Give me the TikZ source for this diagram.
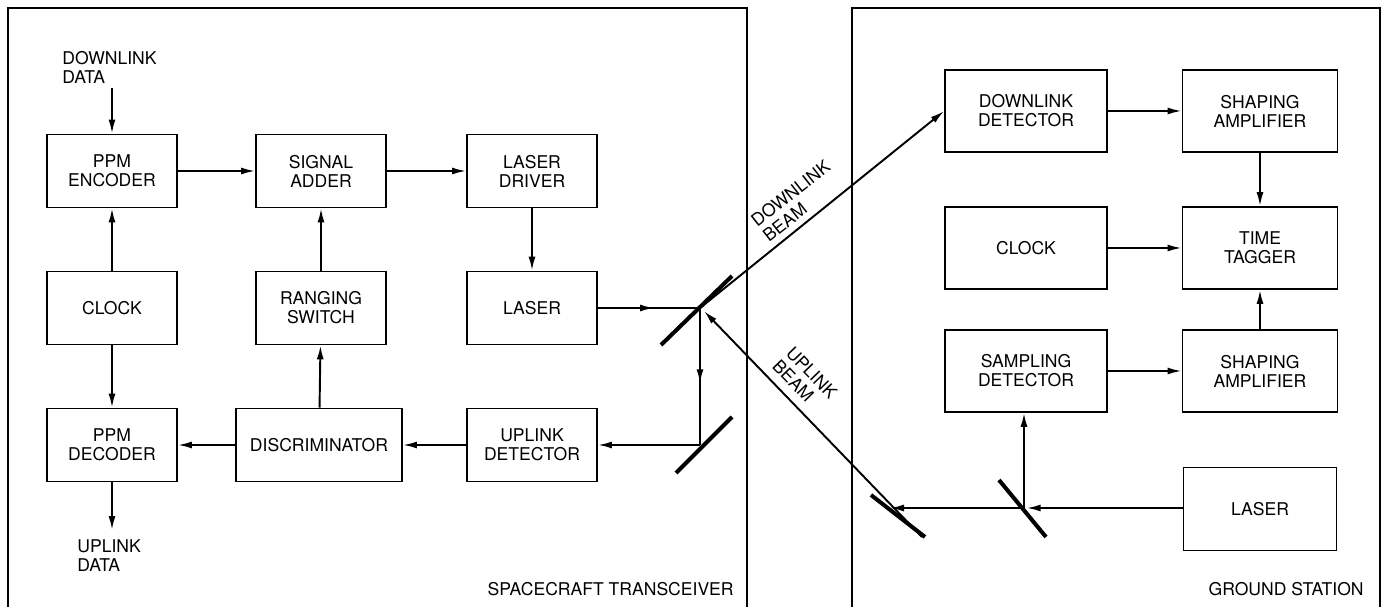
\documentclass[tikz,border=0pt]{standalone}
\usepackage{fontspec}
\setmainfont{TeX Gyre Heros}
\usetikzlibrary{arrows.meta, positioning, calc}

\newcommand{\beamtext}[2]{\rotatebox{#1}{\begin{tabular}{@{}l@{}}#2\end{tabular}}}

\begin{document}
\begin{tikzpicture}[x=0.02cm, y=-0.02cm, font=\fontsize{10}{10.8}\selectfont]
    \tikzstyle{block} = [rectangle, draw=black, line width=1pt, minimum width=2.6cm, minimum height=1.46cm, align=center, inner sep=0pt]
    \tikzstyle{gblock} = [block, minimum width=3.24cm, minimum height=1.64cm]
    \tikzstyle{ablock} = [gblock, minimum width=3.1cm]
    \tikzstyle{arrow} = [line width=1.1pt, -{Latex[length=2.8mm,width=1.4mm]}]
    \tikzstyle{beam} = [line width=1.1pt]
    \tikzstyle{mirror} = [line width=2.3pt]
    \tikzstyle{frame} = [line width=1pt]
    \tikzstyle{label} = [align=left, inner sep=0pt]

    \useasboundingbox (0,0) rectangle (1383,607);
    \draw[frame] (8,607) -- (8,8) -- (747,8) -- (747,607);
    \draw[frame] (852,607) -- (852,8) -- (1380,8) -- (1380,607);

    % spacecraft transceiver
    \node[block] (encoder) at (112,171) {PPM\\ENCODER};
    \node[block] (adder) at (321,171) {SIGNAL\\ADDER};
    \node[block] (driver) at (532,171) {LASER\\DRIVER};
    \node[block] (clock) at (112,308) {CLOCK};
    \node[block] (ranging) at (321,308) {RANGING\\SWITCH};
    \node[block] (laser) at (532,308) {LASER};
    \node[block] (decoder) at (112,445) {PPM\\DECODER};
    \node[block, minimum width=3.32cm] (discr) at (319,445) {DISCRIMINATOR};
    \node[block] (updet) at (532,445) {UPLINK\\DETECTOR};
    \node[label, anchor=north west] (dldata) at (62,51) {DOWNLINK\\DATA};
    \node[label, anchor=north west] (updata) at (77,539) {UPLINK\\DATA};
    \node[label, anchor=base east] (sctitle) at (734,596) {SPACECRAFT TRANSCEIVER};
    \coordinate (dlin) at (112,88);
    \coordinate (upout) at (112,530);

    \draw[arrow] (dlin) -- (encoder);
    \draw[arrow] (encoder) -- (adder);
    \draw[arrow] (adder) -- (driver);
    \draw[arrow] (clock) -- (encoder);
    \draw[arrow] (clock) -- (decoder);
    \draw[arrow] (ranging) -- (adder);
    \draw[arrow] (driver) -- (laser);
    \draw[arrow] (discr) -- (ranging);
    \draw[arrow] (discr) -- (decoder);
    \draw[arrow] (updet) -- (discr);
    \draw[arrow] (decoder) -- (upout);

    % ground station
    \node[gblock] (dldet) at (1026,111) {DOWNLINK\\DETECTOR};
    \node[ablock] (shamp1) at (1260,111) {SHAPING\\AMPLIFIER};
    \node[gblock] (gclock) at (1026,248) {CLOCK};
    \node[ablock] (tagger) at (1260,248) {TIME\\TAGGER};
    \node[gblock] (sampdet) at (1026,371) {SAMPLING\\DETECTOR};
    \node[ablock] (shamp2) at (1260,371) {SHAPING\\AMPLIFIER};
    \node[ablock, minimum width=3.06cm, minimum height=1.66cm] (glaser) at (1260,509) {LASER};
    \node[label, anchor=base east] (gstitle) at (1364,596) {GROUND STATION};

    \draw[arrow] (dldet) -- (shamp1);
    \draw[arrow] (shamp1) -- (tagger);
    \draw[arrow] (gclock) -- (tagger);
    \draw[arrow] (shamp2) -- (tagger);
    \draw[arrow] (sampdet) -- (shamp2);

    % optics
    \coordinate (sm1) at (700,308);
    \coordinate (sm2) at (700,445);
    \coordinate (gm1) at (890,508);
    \coordinate (gsp) at (1024,508);
    \coordinate (ubtail) at (922,537);
    \coordinate (ubhead) at (704,311);

    \draw[beam] (laser.east) -- (sm1);
    \draw[arrow] (laser.east) -- ($(laser.east)!0.55!(sm1)$);
    \draw[beam] (sm1) -- (sm2);
    \draw[arrow] (sm1) -- ($(sm1)!0.55!(sm2)$);
    \draw[arrow] (sm2) -- (updet.east);
    \draw[arrow] (sm1) -- (dldet.west);
    \draw[arrow] (ubtail) -- (ubhead);
    \node[inner sep=0pt] (dlbeam) at (798,203) {\beamtext{38}{DOWNLINK\\BEAM}};
    \node[inner sep=0pt] (upbeam) at (803,381) {\beamtext{-46}{UPLINK\\BEAM}};
    \draw[mirror] (661,345) -- (732,276);
    \draw[mirror] (676,473) -- (732,417);

    \draw[arrow, shorten >=1.5pt] (glaser.west |- gsp) -- (gsp);
    \draw[arrow] (gsp) -- (gm1);
    \draw[arrow] (gsp) -- (gsp |- sampdet.south);
    \draw[mirror] (999,480) -- (1046,537);
    \draw[mirror] (871,495) -- (925,537);
\end{tikzpicture}
\end{document}
